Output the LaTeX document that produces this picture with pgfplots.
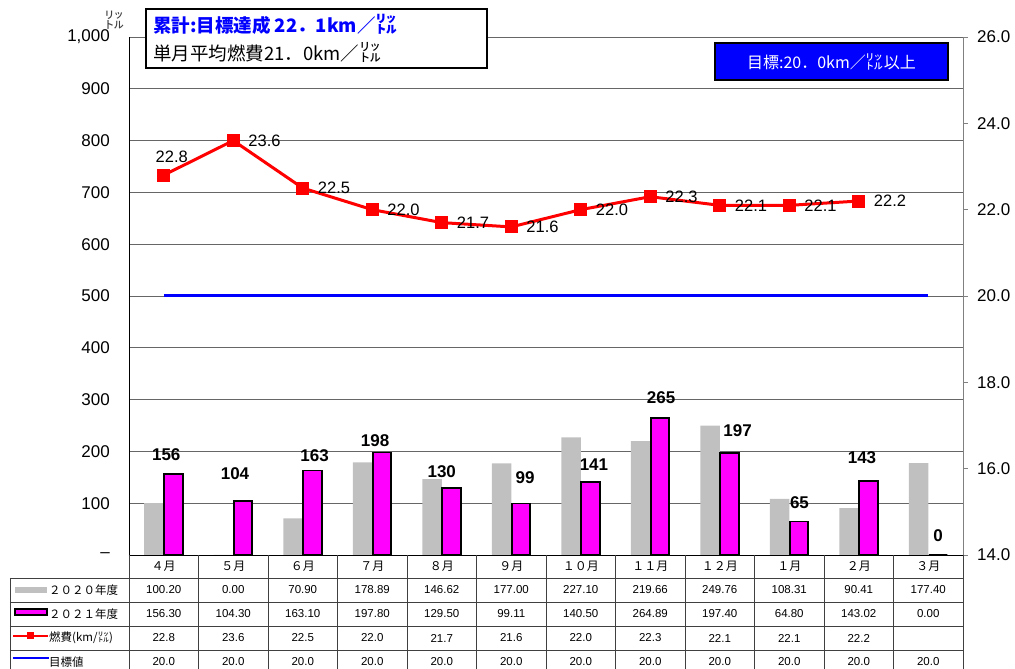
\documentclass[border=0pt]{standalone}
\usepackage{fontspec}
\setmainfont{Liberation Sans}
\newfontfamily\cjk{Noto Sans CJK JP}
\usepackage{pgfplots}
\pgfplotsset{compat=1.18}
\definecolor{bargray}{RGB}{192,192,192}
\definecolor{mag}{RGB}{255,0,255}
\definecolor{tblue}{RGB}{0,0,255}
\begin{document}
\begin{tikzpicture}[x=1pt,y=1pt]
% ---------- left axis: bars ----------
\begin{axis}[
 at={(0pt,0pt)}, anchor=south west,
 scale only axis, width=834pt, height=518pt,
 xmin=-0.5, xmax=11.5, ymin=0, ymax=1000,
 xtick=\empty,
 ytick={0,100,...,1000},
 yticklabels={–,100,200,300,400,500,600,700,800,900,{1,000}},
 axis x line*=bottom, axis y line*=left,
 y axis line style={black, line width=0.9pt},
 x axis line style={black, line width=0.9pt},
 major tick length=0pt,
 ymajorgrids, grid style={black!60, line width=0.8pt},
 yticklabel style={font=\fontsize{17}{17}\selectfont, inner sep=0pt, xshift=-19pt},
 clip=false,
]
\addplot[ybar, bar width=19.5pt, bar shift=-9.75pt, fill=bargray, draw=none] coordinates {
 (0,100.20) (1,0.00) (2,70.90) (3,178.89) (4,146.62) (5,177.00)
 (6,227.10) (7,219.66) (8,249.76) (9,108.31) (10,90.41) (11,177.40)};
\addplot[ybar, bar width=18.5pt, bar shift=9.75pt, fill=mag, draw=black, line width=1.6pt, line join=miter] coordinates {
 (0,156.30) (1,104.30) (2,163.10) (3,197.80) (4,129.50) (5,99.11)
 (6,140.50) (7,264.89) (8,197.40) (9,64.80) (10,143.02) (11,0.00)};
\addplot[only marks, mark=none, nodes near coords, point meta=explicit symbolic,
 nodes near coords style={anchor=center, inner sep=0pt, font=\bfseries\fontsize{17}{17}\selectfont}]
 table[meta=lab] {
x y lab
0.036 194 156
1.025 156.4 104
2.17 192 163
3.04 221 198
4.0 160 130
5.198 148.6 99
6.19 174.7 141
7.157 303 265
8.256 241 197
9.147 101 65
10.047 187 143
11.14 36.7 0
};
\end{axis}
% ---------- right axis: lines ----------
\begin{axis}[
 at={(0pt,0pt)}, anchor=south west,
 scale only axis, width=834pt, height=518pt,
 xmin=-0.5, xmax=11.5, ymin=14, ymax=26,
 ytick={14,16,...,26},
 axis y line*=right, axis x line=none,
 y axis line style={black!50, line width=0.9pt},
 tick align=outside, major tick length=5pt,
 ytick style={black!50, line width=0.8pt},
 yticklabel style={font=\fontsize{17}{17}\selectfont, inner sep=0pt, xshift=9pt,
   /pgf/number format/.cd, fixed, fixed zerofill, precision=1, assume math mode=true},
 clip=false,
]
\addplot[tblue, line width=3pt, mark=none] coordinates {
 (0,20.0) (1,20.0) (2,20.0) (3,20.0) (4,20.0) (5,20.0)
 (6,20.0) (7,20.0) (8,20.0) (9,20.0) (10,20.0) (11,20.0)};
\addplot[red, line width=3pt, mark=square*, mark size=6pt, mark options={solid, fill=red, draw=red, line width=0pt}] coordinates {
 (0,22.8) (1,23.6) (2,22.5) (3,22.0) (4,21.7) (5,21.6)
 (6,22.0) (7,22.3) (8,22.1) (9,22.1) (10,22.2)};
\addplot[only marks, mark=none, nodes near coords, point meta=explicit symbolic,
 nodes near coords style={anchor=south, inner sep=0pt, xshift=8pt, yshift=12pt, font=\fontsize{16.5}{16.5}\selectfont}]
 table[meta=lab] {
x y lab
0 22.8 22.8
};
\addplot[only marks, mark=none, nodes near coords, point meta=explicit symbolic,
 nodes near coords style={anchor=west, inner sep=0pt, xshift=15pt, font=\fontsize{16.5}{16.5}\selectfont}]
 table[meta=lab] {
x y lab
1 23.6 23.6
2 22.5 22.5
3 22.0 22.0
4 21.7 21.7
5 21.6 21.6
6 22.0 22.0
7 22.3 22.3
8 22.1 22.1
9 22.1 22.1
10 22.2 22.2
};
\end{axis}
% ---------- unit above left axis ----------
\node[text=black!75] at (-14.5,534.5) {\cjk\fontsize{20}{20}\selectfont ㍑};
% ---------- title box ----------
\draw[line width=1.5pt, fill=white] (17,487) rectangle (358,546);
\node[anchor=west, text=tblue, inner sep=0pt] at (24,531) {\cjk\bfseries\fontsize{18.5}{18.5}\selectfont 累計:目標達成 22．1km／{\fontsize{22}{22}\selectfont ㍑}};
\node[anchor=west, inner sep=0pt] at (24,503) {\cjk\fontsize{18.5}{18.5}\selectfont 単月平均燃費21．0km／{\fontsize{22}{22}\selectfont ㍑}};
% ---------- target box ----------
\draw[line width=1.5pt, fill=tblue] (586,475) rectangle (819,512);
\node[text=white, inner sep=0pt] at (702.5,493.5) {\cjk\fontsize{16}{16}\selectfont 目標:20．0km／{\fontsize{18}{18}\selectfont ㍑}以上};
% ---------- data table ----------
\begin{scope}[black!75, line width=0.8pt]
\foreach \yy in {-23,-47,-71,-95} \draw (-119,\yy) -- (834,\yy);
\draw (-119,-23) -- (-119,-125);
\foreach \k in {0,...,11} \draw ({69.5*\k},0) -- ({69.5*\k},-125);
\draw (834,0) -- (834,-125);
\end{scope}
\foreach \m [count=\i from 0] in {４月,５月,６月,７月,８月,９月,１０月,１１月,１２月,１月,２月,３月}
 \node at ({69.5*(\i+0.5)},-11.5) {\cjk\fontsize{12}{12}\selectfont \m};
\foreach \v [count=\i from 0] in {100.20,0.00,70.90,178.89,146.62,177.00,227.10,219.66,249.76,108.31,90.41,177.40}
 \node at ({69.5*(\i+0.5)},-35) {\fontsize{11.5}{12}\selectfont \v};
\foreach \v [count=\i from 0] in {156.30,104.30,163.10,197.80,129.50,99.11,140.50,264.89,197.40,64.80,143.02,0.00}
 \node at ({69.5*(\i+0.5)},-59) {\fontsize{11.5}{12}\selectfont \v};
\foreach \v [count=\i from 0] in {22.8,23.6,22.5,22.0,21.7,21.6,22.0,22.3,22.1,22.1,22.2}
 \node at ({69.5*(\i+0.5)},-83) {\fontsize{11.5}{12}\selectfont \v};
\foreach \v [count=\i from 0] in {20.0,20.0,20.0,20.0,20.0,20.0,20.0,20.0,20.0,20.0,20.0,20.0}
 \node at ({69.5*(\i+0.5)},-107) {\fontsize{11.5}{12}\selectfont \v};
% legend keys
\fill[bargray] (-114,-32) rectangle (-82,-38);
\draw[fill=mag, line width=1.2pt] (-114,-54) rectangle (-82,-60);
\draw[red, line width=2.5pt] (-116,-81) -- (-81,-81);
\fill[red] (-101.5,-84.5) rectangle (-94.5,-77.5);
\draw[tblue, line width=2.5pt] (-116,-103) -- (-80,-103);
\node[anchor=west, inner sep=0pt] at (-80,-35) {\cjk\fontsize{11.5}{12}\selectfont ２０２０年度};
\node[anchor=west, inner sep=0pt] at (-80,-59) {\cjk\fontsize{11.5}{12}\selectfont ２０２１年度};
\node[anchor=west, inner sep=0pt] at (-80,-83) {\cjk\fontsize{11.5}{12}\selectfont 燃費(km/㍑)};
\node[anchor=west, inner sep=0pt] at (-80,-107) {\cjk\fontsize{11.5}{12}\selectfont 目標値};
\pgfresetboundingbox
\useasboundingbox (-129,-114) rectangle (886,555);
\end{tikzpicture}
\end{document}
